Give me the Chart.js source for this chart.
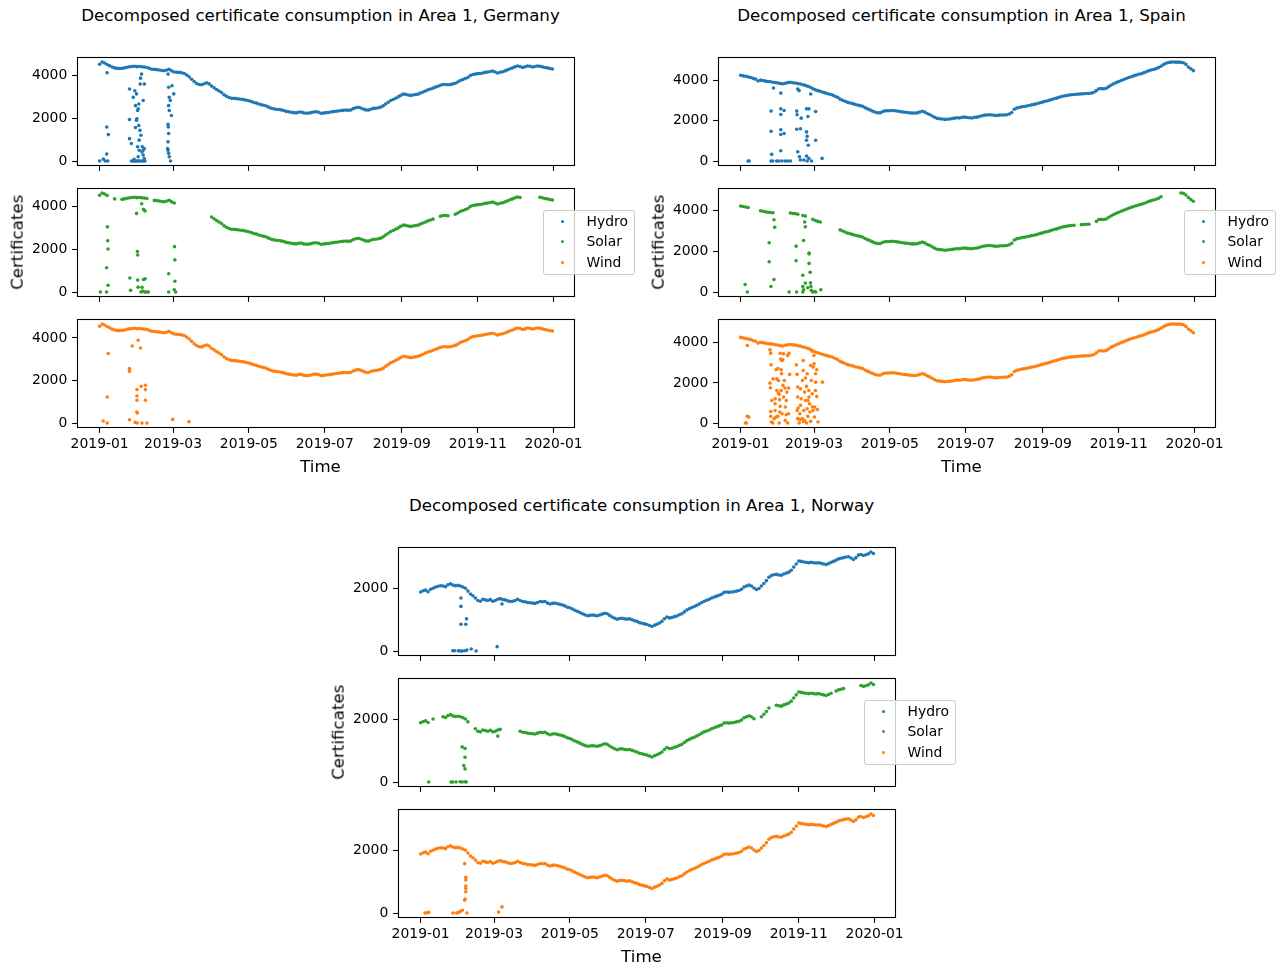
<!DOCTYPE html>
<html>
<head>
<meta charset="utf-8">
<title>Decomposed certificate consumption in Area 1</title>
<script src="https://cdn.jsdelivr.net/npm/chart.js@4.4.1/dist/chart.umd.min.js"></script>
<style>
  html, body { margin: 0; padding: 0; background: #ffffff; }
  #fig { position: relative; width: 1282px; height: 967px; overflow: hidden;
         font-family: "DejaVu Sans", sans-serif; color: #000; }
  .panel { position: absolute; width: 641px; height: 484px; }
  .panel canvas { position: absolute; }
  .title { position: absolute; left: 0; top: 8px; width: 641px; text-align: center;
           font-size: 16.67px; line-height: 16.67px; white-space: nowrap; }
  .xlab { position: absolute; left: 0; top: 459px; width: 641px; text-align: center;
          font-size: 16.67px; line-height: 16.67px; }
  .ylab { position: absolute; left: -82px; top: 234px; width: 200px; text-align: center;
          font-size: 16.67px; line-height: 16.67px; transform: rotate(-90deg); }
  .legend { position: absolute; left: 543px; top: 210px; width: 90px; height: 63px;
            border: 1px solid #cccccc; border-radius: 3px; background: rgba(255,255,255,0.8); }
  .legend .dot { position: absolute; width: 3px; height: 3px; border-radius: 50%; }
  .legend .txt { position: absolute; font-size: 13.9px; line-height: 13.9px; white-space: nowrap; }
</style>
</head>
<body>
<div id="fig"></div>
<script>
// ---- colours and labels ----
const HYDRO_COLOR = '#1f77b4';
const SOLAR_COLOR = '#2ca02c';
const WIND_COLOR = '#ff7f0e';
const seriesNames = ['Hydro', 'Solar', 'Wind'];
const seriesColors = [HYDRO_COLOR, SOLAR_COLOR, WIND_COLOR];

// x axis: days since 2019-01-01, ticks on every second month start
const monthTickDays = [0, 59, 120, 181, 243, 304, 365];
const monthTickLabels = ['2019-01', '2019-03', '2019-05', '2019-07', '2019-09', '2019-11', '2020-01'];
const yTickValues = [0, 2000, 4000];

// Daily trend readings, one value every STEP days starting 2019-01-01
const STEP = 2;

const germanyBase = [
  4540, 4650, 4600, 4530, 4470, 4410, 4370, 4350, 4340, 4350,
  4370, 4400, 4420, 4440, 4450, 4430, 4440, 4420, 4410, 4390,
  4350, 4310, 4300, 4290, 4270, 4250, 4240, 4270, 4300, 4230,
  4180, 4170, 4160, 4140, 4110, 4040, 3950, 3840, 3730, 3640,
  3590, 3580, 3630, 3670, 3620, 3520, 3440, 3360, 3290, 3220,
  3110, 3040, 2980, 2950, 2940, 2930, 2910, 2900, 2880, 2850,
  2830, 2790, 2750, 2720, 2680, 2640, 2620, 2580, 2530, 2480,
  2450, 2430, 2420, 2400, 2370, 2330, 2310, 2290, 2270, 2260,
  2290, 2300, 2260, 2240, 2250, 2270, 2300, 2310, 2290, 2240,
  2250, 2270, 2280, 2300, 2320, 2340, 2350, 2370, 2380, 2390,
  2380, 2400, 2460, 2500, 2520, 2490, 2440, 2400, 2390, 2430,
  2470, 2480, 2500, 2530, 2590, 2680, 2760, 2840, 2890, 2950,
  3010, 3080, 3140, 3130, 3100, 3080, 3100, 3120, 3140, 3190,
  3240, 3290, 3340, 3380, 3420, 3470, 3510, 3560, 3590, 3590,
  3580, 3590, 3620, 3650, 3710, 3780, 3830, 3870, 3920, 4010,
  4060, 4080, 4100, 4110, 4130, 4160, 4180, 4200, 4220, 4180,
  4130, 4170, 4190, 4230, 4280, 4330, 4370, 4420, 4460, 4440,
  4390, 4420, 4460, 4450, 4410, 4440, 4460, 4450, 4420, 4390,
  4370, 4340, 4320
];

const spainBase = [
  4240, 4210, 4190, 4160, 4130, 4090, 4050, 3960, 4000, 3980,
  3950, 3930, 3920, 3900, 3880, 3860, 3830, 3820, 3850, 3880,
  3890, 3870, 3860, 3830, 3810, 3770, 3740, 3700, 3650, 3580,
  3520, 3480, 3450, 3400, 3370, 3330, 3300, 3260, 3200, 3150,
  3060, 3010, 2960, 2900, 2870, 2840, 2800, 2770, 2740, 2710,
  2640, 2580, 2530, 2470, 2420, 2390, 2380, 2440, 2480, 2490,
  2490, 2500, 2490, 2470, 2450, 2430, 2410, 2400, 2380, 2370,
  2370, 2380, 2420, 2460, 2420, 2350, 2300, 2230, 2160, 2110,
  2090, 2080, 2060, 2070, 2080, 2100, 2120, 2140, 2130, 2160,
  2170, 2150, 2140, 2130, 2160, 2170, 2200, 2240, 2270, 2280,
  2290, 2280, 2260, 2250, 2270, 2280, 2280, 2290, 2330, 2400,
  2560, 2620, 2650, 2680, 2700, 2720, 2750, 2780, 2800, 2830,
  2870, 2900, 2940, 2970, 3000, 3040, 3080, 3110, 3150, 3190,
  3220, 3240, 3260, 3280, 3290, 3300, 3310, 3320, 3330, 3340,
  3340, 3360, 3400, 3480, 3570, 3580, 3570, 3600, 3680, 3760,
  3820, 3880, 3930, 3980, 4030, 4080, 4130, 4170, 4210, 4250,
  4290, 4320, 4360, 4410, 4460, 4500, 4530, 4570, 4620, 4690,
  4770, 4830, 4870, 4890, 4900, 4890, 4890, 4880, 4860, 4780,
  4650, 4560, 4470
];

const norwayBase = [
  1890, 1930, 1950, 1900, 1980, 2010, 2050, 2070, 2090, 2080,
  2060, 2120, 2150, 2110, 2090, 2100, 2080, 2050, 2010, 1920,
  1830, 1770, 1700, 1620, 1600, 1660, 1640, 1620, 1650, 1600,
  1620, 1660, 1680, 1650, 1640, 1610, 1590, 1600, 1620, 1660,
  1620, 1590, 1580, 1560, 1550, 1540, 1530, 1560, 1590, 1580,
  1590, 1540, 1510, 1530, 1540, 1520, 1500, 1480, 1450, 1410,
  1390, 1350, 1310, 1280, 1240, 1200, 1170, 1140, 1150, 1160,
  1150, 1140, 1160, 1190, 1220, 1200, 1150, 1100, 1060, 1030,
  1050, 1060, 1040, 1030, 1040, 1010, 980, 960, 920, 900,
  880, 860, 830, 800, 840, 870, 910, 960, 1040, 1100,
  1070, 1080, 1110, 1130, 1170, 1200, 1260, 1320, 1360, 1400,
  1430, 1470, 1510, 1560, 1600, 1630, 1660, 1700, 1730, 1760,
  1790, 1820, 1880, 1890, 1880, 1890, 1900, 1920, 1940, 1980,
  2050, 2080, 2110, 2080, 2020, 1970, 2000, 2080, 2160, 2250,
  2360, 2410, 2440, 2450, 2430, 2420, 2460, 2490, 2520, 2580,
  2680, 2780, 2870, 2860, 2840, 2830, 2820, 2830, 2820, 2810,
  2820, 2800, 2780, 2760, 2790, 2830, 2860, 2900, 2940, 2960,
  2980, 3000, 3010, 2970, 2920, 2980, 3060, 3080, 3050, 3070,
  3100, 3160, 3110
];

// Day ranges (inclusive) with no solar reading
const germanySolarGaps = [[7, 11], [13, 17], [39, 43], [62, 89], [270, 273], [282, 285], [340, 353]];
const spainSolarGaps = [[7, 15], [28, 38], [47, 49], [54, 56], [65, 78], [270, 273], [282, 284], [339, 352]];
const norwaySolarGaps = [[8, 9], [12, 17], [39, 42], [65, 79], [270, 273], [282, 285], [332, 333], [341, 352]];

// Off-trend readings: [day, certificates]
const germanyHydroExtra = [
  [0, 0], [3, 90], [4.6, 0], [6.5, 0], [5.7, 1600], [7, 1240], [5.7, 330], [6, 4140],
  [24, 3380], [24, 1950], [24, 1050], [25.5, 820],
  [25.6, 0], [26.7, 0], [27.7, 0], [28.8, 0], [29.9, 0], [31, 0], [32.6, 0], [34, 0], [35.4, 0], [36.4, 0],
  [27, 2990], [28.3, 3300], [28.8, 2600], [29.6, 3150], [29.6, 1910], [30.5, 2370], [31, 2450], [31.5, 2680],
  [31.5, 1670], [32.4, 1440], [32.6, 3610], [32.9, 3890], [33.7, 4080], [34.3, 670], [35, 510], [35, 280],
  [35.9, 3610], [35.9, 590], [35, 2840], [31.8, 980], [30.5, 670], [33.2, 1210], [29.9, 1980], [28.8, 1570],
  [31, 200], [27.7, 80], [31.8, 510], [34, 430], [35.9, 120],
  [55, 4080], [55.5, 3460], [56, 2990], [55.5, 2600], [56, 2370], [55, 1720], [55.5, 1290], [55, 900],
  [54.7, 590], [55.5, 360], [56, 200], [57, 0], [58.2, 3530], [59.6, 3150], [57.7, 2140], [56.8, 2840],
  [55.2, 1600], [55, 510]
];
const germanySolarExtra = [
  [0.6, 0], [5.6, 0], [6.2, 3060], [6.5, 2410], [6.8, 2020], [5.6, 1140], [6.8, 320],
  [24.3, 660], [24.9, 80], [29.7, 3690], [30.3, 1900], [30.6, 1740], [30.6, 560], [30.9, 230],
  [33.2, 0], [34.7, 50], [36.2, 0], [37.7, 0], [39.2, 0],
  [33.8, 4140], [35.3, 3880], [36.5, 3800], [34.1, 220], [35.3, 590], [36.5, 620],
  [55.5, 860], [55.5, 0], [60.2, 2130], [60.5, 1510], [60.5, 510], [60, 110], [61.1, 0]
];
const germanyWindExtra = [
  [2.9, 125], [6.1, 30], [6.9, 3270], [6.1, 1245], [24, 185], [24, 2570], [24, 2440], [26.2, 3625],
  [28.6, 60], [30.2, 30], [30, 1590], [30, 1290], [30, 1090], [30, 545], [30.3, 500], [31, 3890],
  [32.8, 3530], [33.4, 1740], [34, 30], [36.8, 1790], [36.8, 1590], [36.8, 1090], [38, 30],
  [58.7, 200], [71.8, 95]
];

const spainHydroExtra = [
  [6, 0], [6.8, 0], [24.5, 0], [25.8, 0], [25, 330], [24.5, 2470], [24.5, 1470], [26.4, 3610],
  [29, 0], [30.7, 0], [33.2, 0], [35.9, 0], [37.8, 0], [40, 0],
  [32.3, 3360], [32.3, 2580], [32.3, 2300], [32.3, 1550], [32.3, 1310], [32.3, 510], [35, 2500], [35, 1360],
  [45.1, 2470], [45.4, 2290], [45.1, 1570], [45.9, 460], [47.3, 210], [48.1, 1600], [48.7, 2120],
  [45.9, 3560], [47, 3480], [50.8, 50], [48, 50],
  [53, 2580], [54.9, 2580], [54.1, 2200], [53, 1440], [53.5, 1220], [53, 1030], [54.4, 780], [53, 245],
  [54.9, 130], [53.5, 0], [57, 0], [56.3, 3315], [60.3, 2450], [60.3, 1030], [65.5, 130]
];
const spainSolarExtra = [
  [3.6, 370], [5.4, 0], [23, 2430], [23, 1490], [24.4, 275], [26.8, 615], [27.4, 3190], [26.8, 3560],
  [39, 0], [45, 0], [44.6, 2260], [44.6, 1540], [50, 825], [50.6, 2540], [52, 3210], [51.5, 3450],
  [50, 275], [50.6, 110], [50, 0], [52, 440], [54, 210], [55, 1925], [55, 1880], [55, 1410],
  [55.9, 970], [56.2, 450], [56.5, 275], [56.8, 80], [58, 0], [59.5, 30], [60.4, 0], [64.5, 110]
];
const spainWindExtra = [
  [3.8, 30], [4.6, 30], [5.4, 360], [6.5, 330], [5.4, 3840],
  [23.6, 3625], [24.2, 3460], [24.5, 2890], [23.6, 1990], [23.9, 1760], [24.2, 600], [24.2, 360], [25, 1140],
  [24.7, 80], [25.8, 30], [26.9, 245], [27.7, 650], [27.7, 980], [28.5, 2650], [29.1, 2200], [29.9, 2710],
  [30.4, 1500], [29.9, 360], [31, 30], [30.4, 2120], [31.3, 1180], [31.8, 3460], [31.8, 850], [32.3, 3180],
  [32.6, 1630], [32.9, 2450], [33.4, 490], [34, 3140], [34.5, 3430], [34, 1880], [34.5, 1310], [35.1, 2120],
  [35.9, 160], [35.9, 820], [36.7, 1140], [37.2, 1550], [37.8, 30], [38.6, 1750], [38.6, 490], [38.9, 3460],
  [39.4, 2420], [37.8, 3350], [33.2, 3100], [32.6, 2650], [31, 1440], [28.5, 330], [27.7, 1220], [26.1, 2200],
  [29.1, 1630], [31.5, 570], [36.7, 440], [35.6, 1750],
  [44.8, 2890], [45.4, 2420], [45.9, 1800], [45.9, 1310], [46.2, 770], [45.4, 650], [45.9, 245], [47, 30],
  [47.6, 490], [48.1, 900], [48.1, 1710], [48.7, 1220], [49.5, 245], [49.7, 2120], [50.3, 2610], [50.3, 3100],
  [50.8, 650], [51.4, 1550], [51.4, 160], [52.2, 2240], [52.2, 1140], [53, 1830], [53.5, 730], [54.1, 360],
  [53.5, 2450], [54.9, 1630], [54.9, 1310], [55.4, 980], [55.7, 570], [56.3, 110], [56.8, 2120], [57.6, 3560],
  [57.6, 1470], [58.2, 650], [58.4, 2780], [59, 2940], [59, 3350], [59.3, 330], [59.5, 820], [60.3, 2450],
  [60.3, 2040], [61.2, 2650], [61.7, 690], [62.2, 80], [61.2, 1340], [56.3, 2860], [53, 30], [50.3, 110],
  [47.6, 200], [54.1, 1140], [57.6, 820], [60.1, 1630], [65.8, 2040]
];

const norwayHydroExtra = [
  [25.9, 30], [27.3, 30], [30.3, 30], [31.8, 20], [33.3, 20], [35.4, 30], [37.2, 50], [40.7, 85], [44.6, 20],
  [32.4, 1700], [32.4, 1435], [32.4, 870], [36.3, 870], [36.9, 1040], [61.5, 160], [65.4, 1510]
];
const norwaySolarExtra = [
  [6.5, 0], [24.5, 0], [25.8, 0], [28.5, 0], [31.8, 10], [33.4, 0], [35.7, 10], [36.7, 0],
  [33.4, 1120], [35.7, 1070], [34.7, 525], [35.7, 420], [35.7, 790], [62, 1465]
];
const norwayWindExtra = [
  [3.6, 20], [5.1, 30], [6.5, 40], [26, 20], [29, 20], [30.6, 40], [32.1, 75], [33.6, 110],
  [35.4, 1585], [36.3, 1155], [36.3, 1070], [36.3, 875], [36.3, 800], [36.3, 695], [35.7, 460],
  [35.4, 430], [37.2, 20], [62.7, 50], [65.4, 215]
];

// ---- layout (pixels) ----
const AX_LEFT = 77, AX_WIDTH = 498, AX_HEIGHT = 109;
const AX_TOPS = [57, 188, 319];
const PAD_LEFT = 65, PAD_RIGHT = 45, PAD_TOP = 8;
const FONT = '"DejaVu Sans", sans-serif';
const TICK_FONT = 13.9;
const TICK_LEN = 4.86;
const POINT_RADIUS = 1.8;

function trendPoints(base, gaps) {
  const pts = [];
  base.forEach((v, i) => {
    const d = i * STEP;
    if (!gaps.some(g => d >= g[0] && d <= g[1])) pts.push({ x: d, y: v });
  });
  return pts;
}
function extraPoints(list) { return list.map(p => ({ x: p[0], y: p[1] })); }

const framePlugin = {
  id: 'axesFrame',
  afterDraw(chart) {
    const a = chart.chartArea, ctx = chart.ctx;
    ctx.save();
    ctx.strokeStyle = '#000';
    ctx.lineWidth = 1.1;
    ctx.strokeRect(Math.round(a.left) + 0.5, Math.round(a.top) + 0.5,
                   Math.round(a.right - a.left) - 1, Math.round(a.bottom - a.top) - 1);
    ctx.restore();
  }
};

function addAxes(panel, row, points, color, showDates, xMin, xMax) {
  const xH = showDates ? 32 : 12;
  const w = PAD_LEFT + AX_WIDTH + PAD_RIGHT;
  const h = PAD_TOP + AX_HEIGHT + xH;
  const cv = document.createElement('canvas');
  cv.width = w; cv.height = h;
  cv.style.width = w + 'px'; cv.style.height = h + 'px';
  cv.style.left = (AX_LEFT - PAD_LEFT) + 'px';
  cv.style.top = (AX_TOPS[row] - PAD_TOP) + 'px';
  panel.appendChild(cv);

  let lo = Infinity, hi = -Infinity;
  points.forEach(p => { lo = Math.min(lo, p.y); hi = Math.max(hi, p.y); });
  const m = (hi - lo) * 0.05;

  new Chart(cv, {
    type: 'scatter',
    data: { datasets: [{ data: points, pointRadius: POINT_RADIUS, pointBorderWidth: 0,
                         pointBackgroundColor: color, backgroundColor: color, borderWidth: 0 }] },
    options: {
      responsive: false, animation: false, devicePixelRatio: 1,
      events: [],
      layout: { padding: { left: 0, right: PAD_RIGHT, top: PAD_TOP, bottom: 0 } },
      plugins: { legend: { display: false }, tooltip: { enabled: false } },
      scales: {
        x: {
          type: 'linear', min: xMin, max: xMax,
          afterBuildTicks: s => { s.ticks = monthTickDays.map(v => ({ value: v })); },
          afterFit: s => { s.height = xH; s.paddingLeft = 0; s.paddingRight = 0; },
          border: { display: false },
          grid: { display: true, drawOnChartArea: false, drawTicks: true, tickLength: TICK_LEN,
                  tickColor: '#000', tickWidth: 1.1 },
          ticks: {
            display: showDates, autoSkip: false, maxRotation: 0, minRotation: 0, padding: 3,
            color: '#000', font: { family: FONT, size: TICK_FONT },
            callback: v => { const i = monthTickDays.indexOf(v); return i >= 0 ? monthTickLabels[i] : ''; }
          }
        },
        y: {
          type: 'linear', min: lo - m, max: hi + m,
          afterBuildTicks: s => { s.ticks = yTickValues.filter(v => v >= s.min && v <= s.max).map(v => ({ value: v })); },
          afterFit: s => { s.width = PAD_LEFT; s.paddingTop = 0; s.paddingBottom = 0; },
          border: { display: false },
          grid: { display: true, drawOnChartArea: false, drawTicks: true, tickLength: TICK_LEN,
                  tickColor: '#000', tickWidth: 1.1 },
          ticks: { padding: 4.86, color: '#000', font: { family: FONT, size: TICK_FONT },
                   callback: v => String(v) }
        }
      }
    },
    plugins: [framePlugin]
  });
}

function addText(panel, cls, text) {
  const d = document.createElement('div');
  d.className = cls; d.textContent = text;
  panel.appendChild(d);
}

function addLegend(panel) {
  const lg = document.createElement('div');
  lg.className = 'legend';
  seriesNames.forEach((name, i) => {
    const dot = document.createElement('div');
    dot.className = 'dot';
    dot.style.background = seriesColors[i];
    dot.style.left = '17px';
    dot.style.top = (8.5 + i * 20.5) + 'px';
    const t = document.createElement('div');
    t.className = 'txt';
    t.textContent = name;
    t.style.left = '42.5px';
    t.style.top = (3.9 + i * 20.5) + 'px';
    lg.appendChild(dot); lg.appendChild(t);
  });
  panel.appendChild(lg);
}

function buildPanel(left, top, country, base, solarGaps, extras) {
  const panel = document.createElement('div');
  panel.className = 'panel';
  panel.style.left = left + 'px';
  panel.style.top = top + 'px';
  document.getElementById('fig').appendChild(panel);

  const series = [
    trendPoints(base, []).concat(extraPoints(extras[0])),
    trendPoints(base, solarGaps).concat(extraPoints(extras[1])),
    trendPoints(base, []).concat(extraPoints(extras[2]))
  ];
  const lastDay = (base.length - 1) * STEP;
  const xMin = 0 - lastDay * 0.05, xMax = lastDay + lastDay * 0.05;

  series.forEach((pts, row) => addAxes(panel, row, pts, seriesColors[row], row === 2, xMin, xMax));

  addText(panel, 'title', 'Decomposed certificate consumption in Area 1, ' + country);
  addText(panel, 'xlab', 'Time');
  addText(panel, 'ylab', 'Certificates');
  addLegend(panel);
}

buildPanel(0, 0, 'Germany', germanyBase, germanySolarGaps,
           [germanyHydroExtra, germanySolarExtra, germanyWindExtra]);
buildPanel(641, 0, 'Spain', spainBase, spainSolarGaps,
           [spainHydroExtra, spainSolarExtra, spainWindExtra]);
buildPanel(321, 490, 'Norway', norwayBase, norwaySolarGaps,
           [norwayHydroExtra, norwaySolarExtra, norwayWindExtra]);
</script>
</body>
</html>
